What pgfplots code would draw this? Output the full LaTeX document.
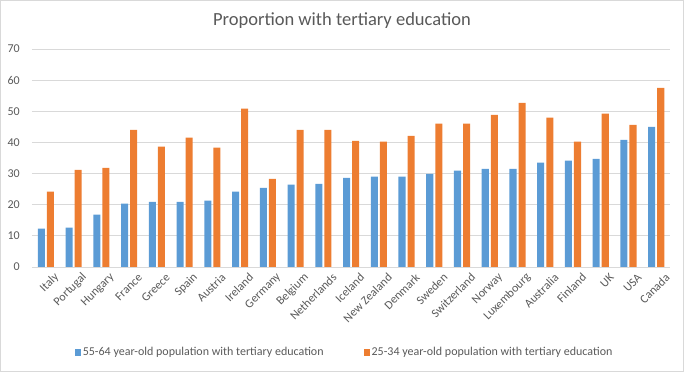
\documentclass[border=0pt]{standalone}
\usepackage{fontspec}
\setmainfont{Carlito}
\usepackage{pgfplots}
\pgfplotsset{compat=1.18}
\definecolor{cblue}{HTML}{5B9BD5}
\definecolor{corange}{HTML}{ED7D31}
\definecolor{ctext}{HTML}{595959}
\definecolor{cgrid}{HTML}{D9D9D9}
\begin{document}
\begin{tikzpicture}[x=1pt,y=1pt]
\draw[cgrid, line width=0.75pt] (0.5,0.5) rectangle (683.5,371.5);
\node[text=ctext, font=\fontsize{18.5}{18.5}\selectfont] at (342,351) {Proportion with tertiary education};
\begin{axis}[
  at={(32pt,105pt)}, anchor=south west,
  scale only axis, width=638pt, height=218pt,
  ymin=0, ymax=70, ytick={0,10,...,70},
  xmin=-0.5, xmax=22.5,
  xtick={0,...,22},
  xticklabels={Italy,Portugal,Hungary,France,Greece,Spain,Austria,Ireland,Germany,Belgium,Netherlands,Iceland,New Zealand,Denmark,Sweden,Switzerland,Norway,Luxembourg,Australia,Finland,UK,USA,Canada},
  ybar=2pt, bar width=7pt,
  axis line style={draw=none},
  major tick length=0pt,
  ymajorgrids, grid style={cgrid, line width=0.75pt},
  /pgf/number format/assume math mode=true,
  yticklabel style={font=\fontsize{12}{12}\selectfont, text=ctext, inner sep=0pt, xshift=-12pt},
  xticklabel style={font=\fontsize{12}{12}\selectfont, text=ctext, rotate=45, anchor=east, inner sep=0pt, xshift=2pt, yshift=-14pt},
  legend style={at={(0.49,-0.39)}, anchor=center, draw=none, fill=none, legend columns=2,
    font=\fontsize{12}{12}\selectfont, text=ctext,
    /tikz/every even column/.append style={column sep=38pt}},
  legend image code/.code={\fill[#1] (0pt,-3.5pt) rectangle (6pt,3.5pt);},
]
\addplot[fill=cblue, draw=none] coordinates {
(0,12.3) (1,12.6) (2,16.8) (3,20.3) (4,20.9) (5,20.9) (6,21.3) (7,24.2) (8,25.4) (9,26.4) (10,26.7) (11,28.6) (12,29.0) (13,29.0) (14,29.9) (15,30.9) (16,31.5) (17,31.5) (18,33.5) (19,34.1) (20,34.7) (21,40.8) (22,45.0)};
\addplot[fill=corange, draw=none] coordinates {
(0,24.2) (1,31.2) (2,31.8) (3,44.0) (4,38.6) (5,41.5) (6,38.3) (7,50.8) (8,28.3) (9,44.0) (10,44.0) (11,40.5) (12,40.2) (13,42.1) (14,46.0) (15,46.0) (16,48.8) (17,52.7) (18,47.9) (19,40.2) (20,49.2) (21,45.6) (22,57.5)};
\legend{55-64 year-old population with tertiary education, 25-34 year-old population with tertiary education}
\end{axis}
\end{tikzpicture}
\end{document}
